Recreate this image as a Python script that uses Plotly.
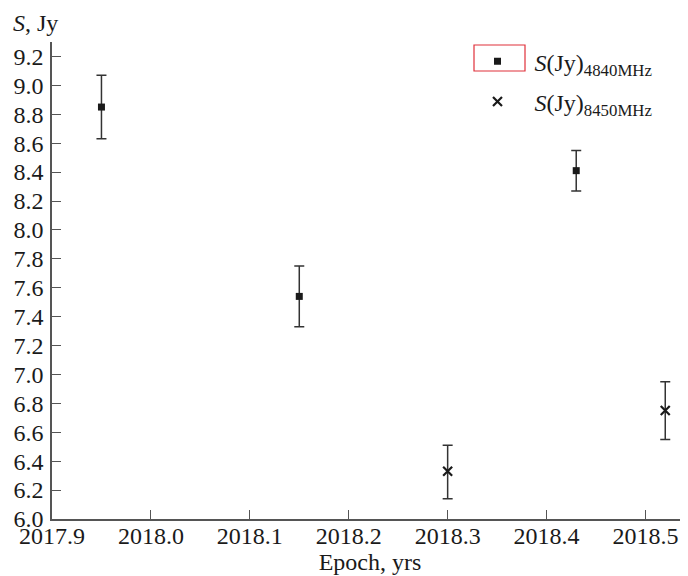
import plotly.graph_objects as go

# Data
x_4840 = [2017.95, 2018.15, 2018.43]
y_4840 = [8.85, 7.54, 8.41]
hi_4840 = [9.07, 7.75, 8.55]
lo_4840 = [8.63, 7.33, 8.27]

x_8450 = [2018.30, 2018.52]
y_8450 = [6.33, 6.75]
hi_8450 = [6.51, 6.95]
lo_8450 = [6.14, 6.55]

name_4840 = "<i>S</i>(Jy)<sub>4840MHz</sub>"
name_8450 = "<i>S</i>(Jy)<sub>8450MHz</sub>"

FONT = "Liberation Serif"
INK = "#1a1a1a"
ERR = "#333333"

def err(y, hi, lo):
    return dict(type="data", symmetric=False,
                array=[h - v for h, v in zip(hi, y)],
                arrayminus=[v - l for v, l in zip(y, lo)],
                color=ERR, thickness=1.5, width=5)

fig = go.Figure()
fig.add_trace(go.Scatter(
    x=x_4840, y=y_4840, mode="markers", name=name_4840,
    legendgroup="a",
    marker=dict(symbol="square", size=7, color=INK),
    error_y=err(y_4840, hi_4840, lo_4840)))
fig.add_trace(go.Scatter(
    x=x_8450, y=y_8450, mode="markers", name=name_8450,
    legendgroup="b",
    marker=dict(symbol="x-thin", size=9, color=INK,
                line=dict(width=2.2, color=INK)),
    error_y=err(y_8450, hi_8450, lo_8450)))

axis_common = dict(showline=True, linecolor="#555555", linewidth=1.5,
                   ticks="inside", ticklen=9, tickwidth=1.3, tickcolor="#555555",
                   showgrid=False, zeroline=False, automargin=False,
                   tickfont=dict(family=FONT, size=24, color=INK))

fig.update_xaxes(range=[2017.9, 2018.543], dtick=0.1, tick0=2017.9,
                 tickformat=".1f", ticklabelstandoff=-6,
                 title=dict(text="Epoch, yrs", standoff=2,
                            font=dict(family=FONT, size=24, color=INK)),
                 **axis_common)
fig.update_yaxes(range=[6.0, 9.3], dtick=0.2, tick0=6.0, tickformat=".1f",
                 ticklabelstandoff=2,
                 **axis_common)

fig.add_annotation(text="<i>S</i>, Jy", xref="paper", yref="paper",
                   x=0, xshift=-41, xanchor="left", y=1, yanchor="bottom",
                   yshift=4, showarrow=False,
                   font=dict(family=FONT, size=24, color=INK))

fig.add_shape(type="rect", xref="paper", yref="paper",
              x0=(466 - 44) / 636, x1=(517 - 44) / 636,
              y0=(511 - 63) / 477, y1=(511 - 37) / 477,
              line=dict(color="#e0303a", width=1.2))

fig.update_layout(
    width=680, height=568,
    margin=dict(l=44, r=0, t=34, b=57),
    paper_bgcolor="white", plot_bgcolor="white",
    font=dict(family=FONT, size=24, color=INK),
    showlegend=True,
    legend=dict(x=(452.5 - 44) / 636, xanchor="left", y=1.006, yanchor="top",
                itemwidth=64, bgcolor="rgba(0,0,0,0)", tracegroupgap=6,
                font=dict(family=FONT, size=24, color=INK)),
)

fig.write_html("out.html")
